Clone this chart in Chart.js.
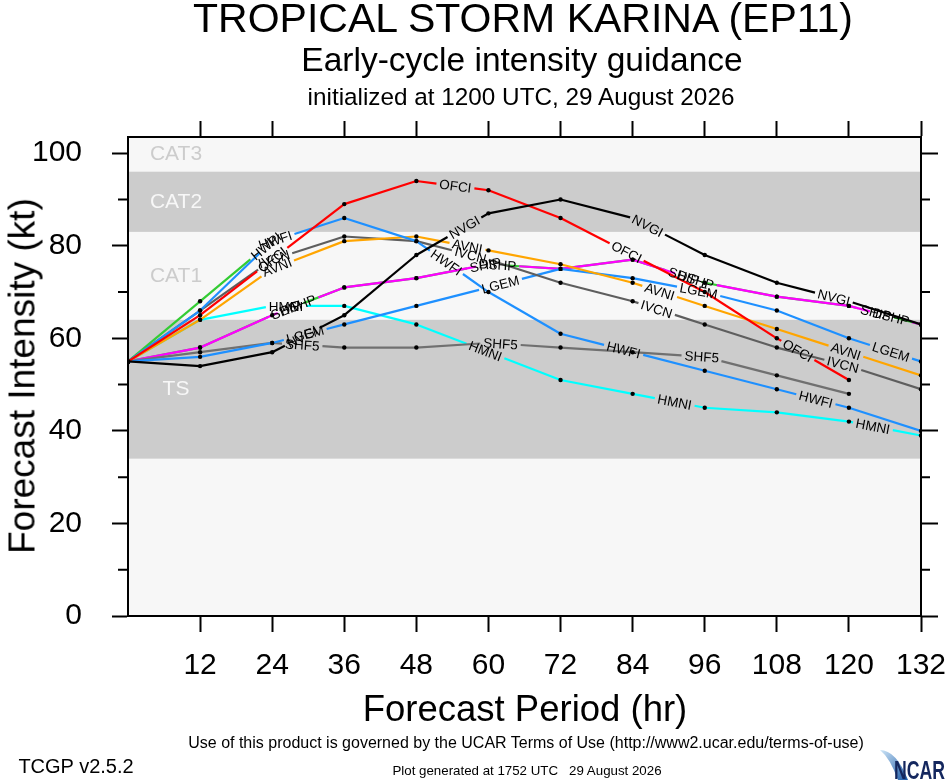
<!DOCTYPE html>
<html>
<head>
<meta charset="utf-8">
<script src="https://cdn.jsdelivr.net/npm/chart.js@4.4.1/dist/chart.umd.min.js"></script>
<style>
  body { margin: 0; background: #fff; }
  #wrap { position: relative; width: 946px; height: 780px; font-family: "Liberation Sans", Arial, Helvetica, sans-serif; color: #000; }
  #chart { position: absolute; left: 0; top: 0; }
  .t { position: absolute; white-space: pre; transform: translate(-50%, -50%); line-height: 1; }
</style>
</head>
<body>
<div id="wrap">
  <canvas id="chart" width="946" height="780"></canvas>
  <div class="t" style="left:523px;top:18px;font-size:41px;">TROPICAL STORM KARINA (EP11)</div>
  <div class="t" style="left:522px;top:60px;font-size:33.5px;">Early-cycle intensity guidance</div>
  <div class="t" style="left:521px;top:97px;font-size:24.3px;">initialized at 1200 UTC, 29 August 2026</div>
  <div class="t" style="left:22px;top:376px;font-size:37px;transform:translate(-50%,-50%) rotate(-90deg);">Forecast Intensity (kt)</div>
  <div class="t" style="left:525px;top:709px;font-size:36.5px;">Forecast Period (hr)</div>
  <div class="t" style="left:526px;top:743px;font-size:16px;">Use of this product is governed by the UCAR Terms of Use (http://www2.ucar.edu/terms-of-use)</div>
  <div class="t" style="left:76px;top:766px;font-size:20px;">TCGP v2.5.2</div>
  <div class="t" style="left:527px;top:771px;font-size:13.3px;">Plot generated at 1752 UTC   29 August 2026</div>
  <svg style="position:absolute;left:878px;top:744px;" width="68" height="36" viewBox="0 0 68 36">
    <defs>
      <linearGradient id="sw" x1="0" y1="0" x2="1" y2="1">
        <stop offset="0" stop-color="#cfe6f7"/>
        <stop offset="1" stop-color="#1b5aa8"/>
      </linearGradient>
    </defs>
    <path d="M2 6 Q18 6 30 36 L20 36 Q12 14 2 6 Z" fill="url(#sw)"/>
    <text x="16" y="35" font-family="Liberation Sans, Arial, sans-serif" font-weight="bold" font-size="25" fill="#14275e" textLength="51" lengthAdjust="spacingAndGlyphs">NCAR</text>
  </svg>
</div>
<script>
// forecast hours and model intensities (kt)
const HOURS = [0, 12, 24, 36, 48, 60, 72, 84, 96, 108, 120, 132];
const NVGI = [55, 54, 57, 65, 78, 87, 90, 86, 78, 72, 68, 63];
const OFCI = [55, 65, 77, 89, 94, 92, 86, 78, 70, 60, 51];
const HWFI = [55, 66, 81, 86, 81, 70, 61, 57, 53, 49, 45, 40];
const HWPI = [55, 68, 81];
const AVNI = [55, 64, 75, 81, 82, 79, 76, 72, 67, 62, 57, 52];
const IVCN = [55, 66, 77, 82, 81, 77, 72, 68, 63, 58, 54, 49];
const LGEM = [55, 56, 59, 63, 67, 71, 75, 73, 70, 66, 60, 55];
const SHF5 = [55, 57, 59, 58, 58, 59, 58, 57, 56, 52, 48];
const HMNI = [55, 64, 67, 67, 63, 57, 51, 48, 45, 44, 42, 39];
const DSHP = [55, 58, 65, 71, 73, 76, 75, 77, 72, 69, 67, 63];
const SHIP = [55, 58, 65, 71, 73, 76, 75, 77, 72, 69, 67, 63];

// first one is drawn on top
const MODEL_NAMES = ["NVGI", "OFCI", "HWFI", "HWPI", "AVNI", "IVCN", "LGEM", "SHF5", "HMNI", "DSHP", "SHIP"];
const MODEL_VALUES = [NVGI, OFCI, HWFI, HWPI, AVNI, IVCN, LGEM, SHF5, HMNI, DSHP, SHIP];
const MODEL_COLORS = ["#000000", "#ff0000", "#1e90ff", "#33cc33", "#ffa500", "#5e5e5e", "#1e90ff", "#707070", "#00ffff", "#ff00ff", "#33cc33"];

// intensity categories
const BAND_NAMES = ["TS", "CAT1", "CAT2", "CAT3"];
const BAND_LOW = [34, 64, 83, 96];
const BAND_HIGH = [64, 83, 96, 113];

const Y_MAX = 103.5;
const FONT = '"Liberation Sans", Arial, Helvetica, sans-serif';

// where the in-line model labels sit (forecast hour along each line)
const LABEL_HOURS = {
  NVGI: [29, 56, 86.5, 117.5],
  OFCI: [24, 54.5, 83, 111.5],
  HWFI: [24.5, 53, 82.5, 114.5],
  HWPI: [23],
  AVNI: [24.8, 56.5, 88.5, 119.5],
  IVCN: [24.3, 57, 88, 119],
  LGEM: [29.5, 62, 95, 127],
  SHF5: [29, 62, 95.5],
  HMNI: [26.3, 59.5, 91, 124],
  DSHP: [28.3, 61.5, 94.5, 127],
  SHIP: [26.3, 59.5, 92.5, 124.5],
};

const measureCtx = document.createElement("canvas").getContext("2d");
measureCtx.font = "13.5px " + FONT;
function textWidth(s) {
  return measureCtx.measureText(s).width;
}

function linePath(chart, di) {
  const xs = chart.scales.x, ys = chart.scales.y;
  const ds = chart.data.datasets[di];
  const vals = ds.data;
  const pts = vals.map((p) => ({ x: xs.getPixelForValue(p.x), y: ys.getPixelForValue(p.y) }));
  const cum = [0];
  for (let i = 1; i < pts.length; i++) {
    cum.push(cum[i - 1] + Math.hypot(pts[i].x - pts[i - 1].x, pts[i].y - pts[i - 1].y));
  }
  const labels = (LABEL_HOURS[ds.label] || []).map((h) => {
    let k = 0;
    while (k < vals.length - 2 && vals[k + 1].x <= h) k++;
    const f = (h - vals[k].x) / (vals[k + 1].x - vals[k].x);
    const p0 = pts[k], p1 = pts[k + 1];
    return {
      x: p0.x + f * (p1.x - p0.x),
      y: p0.y + f * (p1.y - p0.y),
      s: cum[k] + f * (cum[k + 1] - cum[k]),
      ang: Math.atan2(p1.y - p0.y, p1.x - p0.x),
      half: textWidth(ds.label) / 2 + 3,
    };
  });
  return { pts, cum, labels };
}

// cut a hole in the line where its label goes
function segDash(ctx) {
  const info = linePath(ctx.chart, ctx.datasetIndex);
  const S = info.cum[ctx.p0DataIndex];
  const L = info.cum[ctx.p1DataIndex] - S;
  const iv = [];
  info.labels.forEach((g) => {
    const a = Math.max(0, g.s - g.half - S);
    const b = Math.min(L, g.s + g.half - S);
    if (b > a) iv.push([a, b]);
  });
  if (!iv.length) return undefined;
  iv.sort((p, q) => p[0] - q[0]);
  const dash = [];
  let pos = 0;
  iv.forEach(([a, b]) => {
    a = Math.max(a, pos);
    if (b <= a) return;
    dash.push(a - pos, b - a);
    pos = b;
  });
  dash.push(L - pos + 50, 1);
  return dash;
}

function pointSize(ctx) {
  if (ctx.dataIndex === undefined || !ctx.chart.scales.x) return 2.2;
  const info = linePath(ctx.chart, ctx.datasetIndex);
  const s = info.cum[ctx.dataIndex];
  return info.labels.some((g) => Math.abs(g.s - s) < g.half) ? 0 : 2.2;
}

const datasets = MODEL_NAMES.map((name, i) => ({
  label: name,
  data: MODEL_VALUES[i].map((v, j) => ({ x: HOURS[j], y: v })),
  borderColor: MODEL_COLORS[i],
  backgroundColor: "#000",
  borderWidth: 2.2,
  pointRadius: pointSize,
  pointBackgroundColor: "#000",
  pointBorderWidth: 0,
  pointHoverRadius: 0,
  tension: 0,
  fill: false,
  xAxisID: "x",
  yAxisID: "y",
  segment: { borderDash: segDash },
}));

const bandPlugin = {
  id: "bands",
  beforeDraw(chart) {
    const { ctx, chartArea: a } = chart;
    const ys = chart.scales.y;
    ctx.save();
    ctx.fillStyle = "#f7f7f7";
    ctx.fillRect(a.left, a.top, a.right - a.left, a.bottom - a.top);
    ctx.font = "21px " + FONT;
    ctx.textAlign = "center";
    ctx.textBaseline = "middle";
    BAND_NAMES.forEach((name, i) => {
      const top = ys.getPixelForValue(Math.min(BAND_HIGH[i], Y_MAX));
      const bot = ys.getPixelForValue(BAND_LOW[i]);
      const gray = i % 2 === 0;
      if (gray) {
        ctx.fillStyle = "#cccccc";
        ctx.fillRect(a.left, top, a.right - a.left, bot - top);
      }
      ctx.fillStyle = gray ? "#f7f7f7" : "#cccccc";
      ctx.fillText(name, a.left + 48, (top + bot) / 2);
    });
    ctx.restore();
  },
  afterDatasetsDraw(chart) {
    const ctx = chart.ctx;
    ctx.save();
    ctx.font = "13.5px " + FONT;
    ctx.fillStyle = "#000";
    ctx.textAlign = "center";
    ctx.textBaseline = "middle";
    chart.data.datasets.forEach((ds, di) => {
      linePath(chart, di).labels.forEach((g) => {
        ctx.save();
        ctx.translate(g.x, g.y);
        ctx.rotate(g.ang);
        ctx.fillText(ds.label, 0, 1);
        ctx.restore();
      });
    });
    ctx.restore();
  },
  afterDraw(chart) {
    // minor ticks every 10 kt
    const { ctx, chartArea: a } = chart;
    const ys = chart.scales.y;
    ctx.save();
    ctx.strokeStyle = "#000";
    ctx.lineWidth = 2;
    for (let v = 10; v < 100; v += 20) {
      const y = ys.getPixelForValue(v);
      ctx.beginPath();
      ctx.moveTo(a.left - 10, y);
      ctx.lineTo(a.left, y);
      ctx.moveTo(a.right, y);
      ctx.lineTo(a.right + 9, y);
      ctx.stroke();
    }
    ctx.restore();
  },
};

const tickFont = { family: FONT, size: 30 };
const border = { color: "#000", width: 2 };
const hideZero = (c) => (c.tick && c.tick.value === 0 ? "rgba(0,0,0,0)" : "#000");
const noSidePad = (h) => (s) => { s.height = h; s.paddingLeft = 0; s.paddingRight = 0; };

new Chart(document.getElementById("chart"), {
  type: "line",
  data: { datasets },
  plugins: [bandPlugin],
  options: {
    responsive: false,
    animation: false,
    devicePixelRatio: 1,
    layout: { padding: 0 },
    plugins: { legend: { display: false }, tooltip: { enabled: false } },
    events: [],
    scales: {
      x: {
        type: "linear", position: "bottom", min: 0, max: 132,
        afterFit: noSidePad(164),
        ticks: { stepSize: 12, autoSkip: false, maxRotation: 0, includeBounds: false, color: "#000", font: tickFont, padding: 16,
          callback: (v) => (v === 0 ? "" : v) },
        grid: { drawOnChartArea: false, tickLength: 16, tickWidth: 2, tickColor: hideZero },
        border,
      },
      xTop: {
        type: "linear", position: "top", min: 0, max: 132,
        afterFit: noSidePad(137),
        ticks: { stepSize: 12, autoSkip: false, maxRotation: 0, includeBounds: false, callback: () => "" },
        grid: { drawOnChartArea: false, tickLength: 16, tickWidth: 2, tickColor: hideZero },
        border,
      },
      y: {
        type: "linear", position: "left", min: 0, max: Y_MAX,
        afterFit: (s) => { s.width = 128; s.paddingTop = 0; s.paddingBottom = 0; },
        ticks: { stepSize: 20, includeBounds: false, color: "#000", font: tickFont, padding: 30 },
        grid: { drawOnChartArea: false, tickLength: 16, tickWidth: 2, tickColor: "#000" },
        border,
      },
      yRight: {
        type: "linear", position: "right", min: 0, max: Y_MAX,
        afterFit: (s) => { s.width = 25; s.paddingTop = 0; s.paddingBottom = 0; },
        ticks: { stepSize: 20, includeBounds: false, callback: () => "" },
        grid: { drawOnChartArea: false, tickLength: 17, tickWidth: 2, tickColor: "#000" },
        border,
      },
    },
  },
});
</script>
</body>
</html>
